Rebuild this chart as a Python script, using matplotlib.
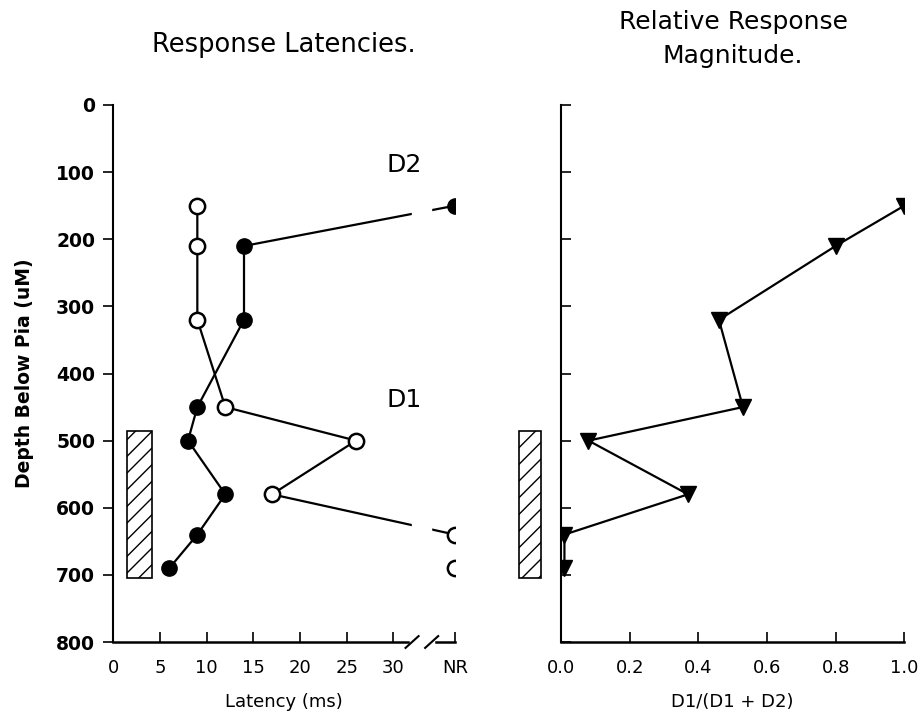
# depth profile of response latency and relative magnitude (D1 vs D2)
import matplotlib
matplotlib.use("Agg")
import matplotlib.pyplot as plt

# --- data ---
depths = [150, 210, 320, 450, 500, 580, 640, 690]
# latency in ms, None = no response (NR)
lat_d2 = [None, 14, 14, 9, 8, 12, 9, 6]
lat_d1 = [9, 9, 9, 12, 26, 17, None, None]
# relative magnitude D1/(D1+D2)
ratio = [1.0, 0.8, 0.46, 0.53, 0.08, 0.37, 0.01, 0.01]

# hatched layer bar (depth range)
layer_top = 485
layer_bottom = 705

x_ticks = [0, 5, 10, 15, 20, 25, 30]
y_ticks = [0, 100, 200, 300, 400, 500, 600, 700, 800]

NR_POS = 36.6  # where the NR column sits on the latency axis


def to_x(vals):
    return [NR_POS if v is None else v for v in vals]


def main():
    plt.rcParams['font.family'] = ['DejaVu Sans']
    fig = plt.figure(figsize=(9.21, 7.18), dpi=100)
    W, H = 921.0, 718.0
    ax1 = fig.add_axes([113.3 / W, 1 - 642 / H, (455 - 113.3) / W, (642 - 105) / H])
    ax2 = fig.add_axes([561 / W, 1 - 642 / H, (904.3 - 561) / W, (642 - 105) / H])

    lw = 1.6
    # ---------- left: latencies ----------
    ax1.plot(to_x(lat_d2), depths, '-', color='black', lw=lw,
             marker='o', ms=11, mfc='black', mec='black', zorder=3)
    # D1: NR points are not joined to each other
    x1 = to_x(lat_d1)
    ax1.plot(x1[:7], depths[:7], '-', color='black', lw=lw,
             marker='o', ms=11, mfc='white', mec='black', mew=1.8, zorder=3)
    ax1.plot(x1[7:], depths[7:], 'o', ms=11, mfc='white', mec='black', mew=1.8, zorder=3)

    # white band where the axis is broken, so lines show a gap
    ax1.axvspan(32.0, 34.0, color='white', zorder=4)

    ax1.bar(2.8, layer_bottom - layer_top, bottom=layer_top, width=2.6,
            color='white', edgecolor='black', hatch='//', lw=1.2, zorder=2)

    ax1.set_xlim(0, NR_POS)
    ax1.set_ylim(800, 0)
    ax1.set_xticks(x_ticks + [NR_POS])
    ax1.set_xticklabels([str(t) for t in x_ticks] + ['NR'])
    ax1.set_yticks(y_ticks)
    ax1.tick_params(axis='x', direction='in', length=7, width=1.2, pad=12, labelsize=13)
    ax1.tick_params(axis='y', direction='out', length=7, width=1.2, pad=6, labelsize=13.5)
    for lab in ax1.get_yticklabels():
        lab.set_fontweight('bold')
    for s in ['top', 'right', 'bottom']:
        ax1.spines[s].set_visible(False)
    ax1.spines['left'].set_linewidth(1.5)

    # broken x axis drawn by hand
    tr = ax1.get_xaxis_transform()
    ax1.plot([0, 31.6], [0, 0], color='black', lw=1.8, transform=tr, clip_on=False, zorder=5)
    ax1.plot([34.6, NR_POS], [0, 0], color='black', lw=1.8, transform=tr, clip_on=False, zorder=5)
    ax1.plot([31.3, 32.7], [-0.011, 0.011], color='black', lw=1.5, transform=tr, clip_on=False, zorder=5)
    ax1.plot([33.4, 34.8], [-0.011, 0.011], color='black', lw=1.5, transform=tr, clip_on=False, zorder=5)

    ax1.set_xlabel('Latency (ms)', fontsize=13, labelpad=12)
    ax1.set_ylabel('Depth Below Pia (uM)', fontsize=13.5, fontweight='bold', labelpad=16)

    ax1.text(31.2, 90, 'D2', fontsize=18, ha='center', va='center', zorder=6)
    ax1.text(31.2, 440, 'D1', fontsize=18, ha='center', va='center', zorder=6)

    # ---------- right: relative magnitude ----------
    ax2.plot(ratio, depths, '-', color='black', lw=lw, marker='v', ms=11,
             mfc='black', mec='black', zorder=3)
    ax2.bar(-0.09, layer_bottom - layer_top, bottom=layer_top, width=0.066,
            color='white', edgecolor='black', hatch='//', lw=1.2, clip_on=False, zorder=2)
    ax2.set_xlim(0, 1.0)
    ax2.set_ylim(800, 0)
    ax2.set_xticks([0.0, 0.2, 0.4, 0.6, 0.8, 1.0])
    ax2.set_xticklabels(['0.0', '0.2', '0.4', '0.6', '0.8', '1.0'])
    ax2.set_yticks(y_ticks)
    ax2.set_yticklabels([])
    ax2.tick_params(axis='x', direction='in', length=7, width=1.2, pad=12, labelsize=13)
    ax2.tick_params(axis='y', direction='in', length=7, width=1.2)
    for s in ['top', 'right']:
        ax2.spines[s].set_visible(False)
    ax2.spines['left'].set_linewidth(1.5)
    ax2.spines['bottom'].set_linewidth(1.8)
    ax2.set_xlabel('D1/(D1 + D2)', fontsize=13, labelpad=12)

    # titles
    fig.text(284 / W, 1 - 45 / H, 'Response Latencies.', fontsize=18.5,
             ha='center', va='center')
    fig.text(733 / W, 1 - 39 / H, 'Relative Response\nMagnitude.', fontsize=18,
             ha='center', va='center', linespacing=1.5)

    fig.savefig('out.png', dpi=100)


if __name__ == "__main__":
    main()
